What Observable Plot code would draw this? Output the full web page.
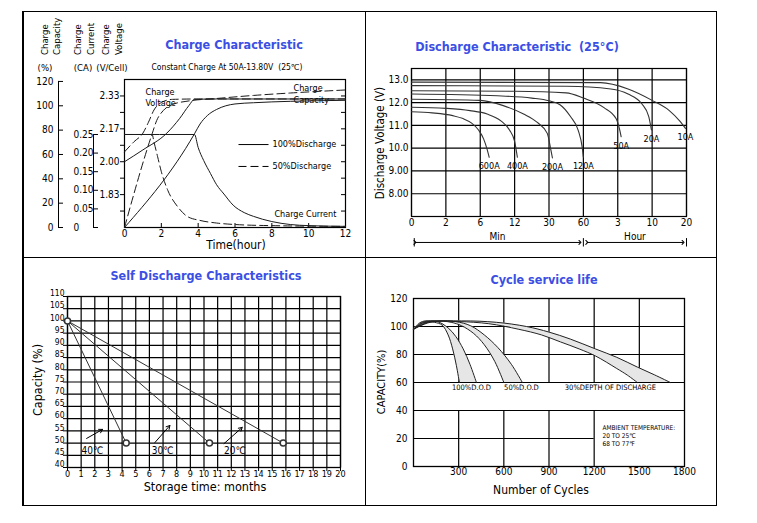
<!DOCTYPE html>
<html>
<head>
<meta charset="utf-8">
<script src="https://cdn.jsdelivr.net/npm/d3@7"></script>
<script src="https://cdn.jsdelivr.net/npm/@observablehq/plot@0.6"></script>
<style>
html,body{margin:0;padding:0;background:#fff}
#root{position:relative;width:757px;height:523px;overflow:hidden;background:#fff;font-family:"DejaVu Sans Condensed","DejaVu Sans",sans-serif;color:#000}
.t{position:absolute;white-space:pre;line-height:1}
</style>
</head>
<body>
<div id="root"></div>
<script>
// ================= DATA =================
// --- Charge Characteristic (hours) ---
const chargeHourTicks = [0, 2, 4, 6, 8, 10, 12];
const chargeVoltTicks = [1.75, 1.8333, 1.9167, 2.0, 2.0833, 2.1667, 2.25, 2.3333];
const chargeVoltLabels = ["", "1.83", "", "2.00", "", "2.17", "", "2.33"];
const chargeCapTicks = [0, 20, 40, 60, 80, 100, 120];
const chargeCurTicks = [0, 0.05, 0.10, 0.15, 0.20, 0.25];
const chargeCurLabels = ["0", "0.05", "0.10", "0.15", "0.20", "0.25"];
// [hour, V/cell]
const voltage100 = [[0,2.0],[1,2.06],[2.3,2.145],[3.0,2.22],[3.5,2.285],[3.8,2.316],[5,2.318],[12,2.318]];
const voltage50  = [[0,2.05],[0.5,2.1],[1.0,2.145],[1.3,2.2],[1.6,2.262],[2.0,2.3],[2.6,2.316],[4,2.318],[12,2.318]];
// [hour, %]
const capacity100 = [[0,0],[3.8,77],[4.1,85],[4.5,92],[5,97],[5.5,100],[6,101.5],[7,102.5],[8,103.2],[10,104],[12,104.5]];
const capacity50  = [[0,0],[1.5,77],[1.75,88],[2.1,96],[2.6,101],[3.5,104],[5,106],[7,108.5],[9,110.5],[12,113]];
// [hour, CA]
const current100 = [[0,0.25],[3.8,0.25],[4.0,0.215],[4.3,0.18],[4.67,0.145],[5,0.115],[5.4,0.09],[5.9,0.06],[6.5,0.04],[7,0.03],[8,0.016],[9,0.008],[10,0.005],[12,0.003]];
const current50  = [[0,0.25],[1.5,0.25],[1.6,0.23],[1.8,0.19],[2.0,0.15],[2.35,0.10],[2.9,0.055],[3.4,0.03],[4.1,0.019],[5,0.012],[6,0.008],[8,0.005],[12,0.003]];
const legendLabels = ["100%Discharge", "50%Discharge"];

// --- Discharge Characteristic (x = position on the mixed min/hour axis) ---
const dischargeTimeLabels = ["0","2","6","12","30","60","3","10","20"];
const dischargeVoltTicks = [13, 12, 11, 10, 9, 8];
const dischargeVoltLabels = ["13.0","12.0","11.0","10.0","9.00","8.00"];
const dischargeCurves = [
  {label:"600A", points:[[0,11.6],[0.6,11.55],[1.2,11.43],[1.5,11.3],[1.75,11.1],[1.95,10.8],[2.1,10.4],[2.2,9.95],[2.26,9.6]]},
  {label:"400A", points:[[0,11.8],[1,11.75],[1.7,11.65],[2.2,11.5],[2.6,11.2],[2.85,10.8],[3.0,10.3],[3.08,9.6]]},
  {label:"200A", points:[[0,12.15],[2,12.1],[2.67,11.87],[3.26,11.5],[3.66,11.13],[3.95,10.65],[4.04,10.04],[4.1,9.57]]},
  {label:"120A", points:[[0,12.38],[2.5,12.3],[3.5,12.2],[4.0,12.08],[4.33,11.9],[4.62,11.4],[4.85,10.78],[4.97,10.0],[5.0,9.6]]},
  {label:"50A",  points:[[0,12.52],[3,12.5],[4.5,12.43],[5.0,12.2],[5.6,11.78],[5.95,11.3],[6.05,10.85],[6.1,10.5]]},
  {label:"20A",  points:[[0,12.75],[4.5,12.72],[5.8,12.6],[6.3,12.38],[6.7,11.95],[6.9,11.4],[6.98,10.8]]},
  {label:"10A",  points:[[0,12.9],[5.5,12.88],[6.3,12.6],[7.0,12.1],[7.5,11.65],[7.8,11.2],[7.97,10.87]]}
];
const dischargeSpans = [{label:"Min", from:"0", to:"60"}, {label:"Hour", from:"60", to:"20"}];

// --- Self Discharge ---
const storageMonthTicks = [0,1,2,3,4,5,6,7,8,9,10,11,12,13,14,15,16,17,18,19,20];
const selfCapTicks = [40,45,50,55,60,65,70,75,80,85,90,95,100,105,110];
const selfTemps = ["40℃","30℃","20℃"];
const selfStart = [0, 100];
const selfEndMonths = [4.3, 10.4, 15.8];
const selfEndCapacity = [50, 50, 50];

// --- Cycle service life ---
const cycleTicks = [300,600,900,1200,1500,1800];
const cycleCapTicks = [0,20,40,60,80,100,120];
const dod100Inner = [[0,98],[40,102.5],[80,104],[140,103],[190,101],[230,94],[260,84],[285,72],[305,60]];
const dod100Outer = [[0,98],[50,102.5],[100,104],[160,103.5],[230,99],[280,93],[330,84],[375,73],[418,60]];
const dod50Inner  = [[0,98],[60,102.5],[150,104],[250,103],[320,100.5],[400,95],[470,87],[540,75],[600,60]];
const dod50Outer  = [[0,98],[70,102.5],[170,104],[280,103.5],[380,100.5],[470,94],[560,85],[650,73],[723,60]];
const dod30Inner  = [[0,98],[100,103],[300,103.5],[500,102],[700,98],[850,94],[976,89],[1100,84],[1208,79],[1350,70],[1420,65.3],[1487,60]];
const dod30Outer  = [[0,98],[110,103],[320,104],[550,103],[750,100],[900,96],[1042,91],[1208,84],[1350,78],[1487,71],[1600,65.5],[1706,60]];
const dodLabels = ["100%D.O.D", "50%D.O.D", "30%DEPTH OF DISCHARGE"];
const ambientLines = ["AMBIENT TEMPERATURE:", "20 TO 25℃", "68 TO 77℉"];

// ================= RENDER =================
const FONT = '"DejaVu Sans Condensed","DejaVu Sans",sans-serif';
const BLUE = "#3b4fe4";
const root = document.getElementById("root");
const baseStyle = {background:"none", overflow:"visible", maxWidth:"none", fontFamily:FONT, fontSize:"10px", color:"#000"};

function mount(svg, left, top) {
  svg.style.position = "absolute"; svg.style.left = left + "px"; svg.style.top = top + "px";
  root.appendChild(svg); return svg;
}
function label(text, x, y, o = {}) {
  const d = document.createElement("div");
  d.className = "t"; d.textContent = text;
  d.style.left = x + "px"; d.style.top = y + "px";
  d.style.fontSize = (o.size || 10) + "px";
  if (o.bold) d.style.fontWeight = "bold";
  if (o.color) d.style.color = o.color;
  if (o.ls) d.style.letterSpacing = o.ls + "px";
  if (o.rotStart) { d.style.transformOrigin = "0 50%"; d.style.transform = "translate(0,-50%) rotate(-90deg)"; }
  else if (o.rot) d.style.transform = "translate(-50%,-50%) rotate(-90deg)";
  else d.style.transform = "translate(-50%,-50%)";
  root.appendChild(d);
}
function rect(x, y, w, h) {
  const d = document.createElement("div");
  d.style.cssText = `position:absolute;left:${x}px;top:${y}px;width:${w}px;height:${h}px;background:#000`;
  root.appendChild(d);
}
// panel borders
rect(22,10.5,695,1.5); rect(22,504.5,695,1.5); rect(22,10.5,1.5,495.5); rect(715.5,10.5,1.5,495.5);
rect(364.5,10.5,1.5,495.5); rect(22,256.5,695,1.5);

const DASH = "8,4";
const lineOpts = {x:d=>d[0], y:d=>d[1], stroke:"#1a1a1a", strokeWidth:1, curve:"monotone-x"};

// ---------- Panel 1: Charge characteristic ----------
const TLG = {width:342, height:245, marginLeft:101, marginRight:20, marginTop:67, marginBottom:30};
const tlFW = TLG.width - TLG.marginLeft - TLG.marginRight;
const tlFH = TLG.height - TLG.marginTop - TLG.marginBottom;
const hourX = {domain:[0,12], axis:null};
const voltRows = chargeVoltTicks.map((v,i)=>({v, label:chargeVoltLabels[i]}));
const curRows = chargeCurTicks.map((v,i)=>({v, label:chargeCurLabels[i]}));

mount(Plot.plot({...TLG, style:{...baseStyle}, x:hourX, y:{domain:[1.6667,2.4167], axis:null},
  marks:[
    Plot.frame({stroke:"#000", strokeWidth:1.2}),
    Plot.tickX(chargeHourTicks.slice(1,-1), {x:d=>d, insetTop:tlFH-4, stroke:"#000"}),
    Plot.text(chargeHourTicks, {x:d=>d, text:d=>String(d), frameAnchor:"bottom", dy:9, fontSize:10}),
    Plot.tickY(chargeVoltTicks, {y:d=>d, insetLeft:-4, insetRight:tlFW, stroke:"#000"}),
    Plot.tickY(chargeVoltTicks, {y:d=>d, insetLeft:tlFW-4, stroke:"#000"}),
    Plot.text(voltRows, {y:"v", text:"label", frameAnchor:"left", textAnchor:"end", dx:-5, fontSize:10}),
    Plot.line(voltage100, lineOpts),
    Plot.line(voltage50, {...lineOpts, strokeDasharray:DASH}),
    Plot.text(["Charge"], {x:1.14, y:2.351, text:d=>d, textAnchor:"start", fontSize:9}),
    Plot.text(["Voltage"], {x:1.14, y:2.295, text:d=>d, textAnchor:"start", fontSize:9}),
    Plot.text(["Charge"], {x:9.18, y:2.371, text:d=>d, textAnchor:"start", fontSize:9}),
    Plot.text(["Capacity"], {x:9.18, y:2.310, text:d=>d, textAnchor:"start", fontSize:9}),
    Plot.link([legendLabels[0]], {x1:6.19, x2:7.82, y1:2.087, y2:2.087, stroke:"#000"}),
    Plot.link([legendLabels[1]], {x1:6.19, x2:7.82, y1:1.976, y2:1.976, stroke:"#000", strokeDasharray:DASH}),
    Plot.text([legendLabels[0]], {x:8.04, y:2.087, text:d=>d, textAnchor:"start", fontSize:9}),
    Plot.text([legendLabels[1]], {x:8.04, y:1.976, text:d=>d, textAnchor:"start", fontSize:9}),
    Plot.text(["Charge Current"], {x:8.14, y:1.733, text:d=>d, textAnchor:"start", fontSize:9})
  ]}), 23, 12);

mount(Plot.plot({...TLG, style:{...baseStyle}, x:hourX, y:{domain:[0,121.6], axis:null},
  marks:[
    Plot.line(capacity100, lineOpts),
    Plot.line(capacity50, {...lineOpts, strokeDasharray:DASH})
  ]}), 23, 12);

mount(Plot.plot({...TLG, style:{...baseStyle}, x:hourX, y:{domain:[0,0.3978], axis:null},
  marks:[
    Plot.line(current100, lineOpts),
    Plot.line(current50, {...lineOpts, strokeDasharray:DASH})
  ]}), 23, 12);

// capacity axis
mount(Plot.plot({width:42, height:245, marginLeft:35, marginRight:2, marginTop:67, marginBottom:30,
  style:{...baseStyle}, x:{domain:[0,1], axis:null}, y:{domain:[0,121.6], axis:null},
  marks:[
    Plot.ruleX([0], {y1:0, y2:120, stroke:"#000"}),
    Plot.tickY(chargeCapTicks, {y:d=>d, stroke:"#000"}),
    Plot.text(chargeCapTicks, {y:d=>d, text:d=>String(d), frameAnchor:"left", textAnchor:"end", dx:-5, fontSize:10})
  ]}), 23, 12);
// current axis
mount(Plot.plot({width:42, height:245, marginLeft:35, marginRight:2, marginTop:67, marginBottom:30,
  style:{...baseStyle}, x:{domain:[0,1], axis:null}, y:{domain:[0,0.3978], axis:null},
  marks:[
    Plot.ruleX([0], {y1:0, y2:0.25, stroke:"#000"}),
    Plot.tickY(chargeCurTicks, {y:d=>d, stroke:"#000"}),
    Plot.text(curRows, {y:"v", text:"label", frameAnchor:"left", textAnchor:"start", dx:-20, fontSize:10})
  ]}), 58, 12);

label("Charge Characteristic", 234, 45, {size:12.5, bold:true, color:BLUE});
label("Constant Charge At 50A-13.80V  (25℃)", 227, 67, {size:8.5});
[["Charge",45],["Capacity",57],["Charge",78],["Current",91],["Charge",106],["Voltage",119]]
  .forEach(([t,x]) => label(t, x, 55, {size:9.5, rotStart:true}));
label("(%)", 45, 68, {size:9.5});
label("(CA)", 83, 68, {size:9.5});
label("(V/Cell)", 112, 68, {size:9.5});
label("Time(hour)", 236, 245, {size:12});

// ---------- Panel 2: Discharge characteristic ----------
const TRG = {width:350, height:245, marginLeft:45, marginRight:30, marginTop:56, marginBottom:41};
const dIdx = dischargeTimeLabels.map((_, i) => i);
const dRows = dischargeCurves.flatMap(c => c.points.map(([t, v]) => ({label:c.label, t, v})));
const dEnds = dischargeCurves.map(c => ({label:c.label, t:c.points[c.points.length-1][0], v:c.points[c.points.length-1][1]}));
const dSpanRows = dischargeSpans.map(s => ({label:s.label, from:dischargeTimeLabels.indexOf(s.from), to:dischargeTimeLabels.lastIndexOf(s.to)}));
const dimY = 5.86;
mount(Plot.plot({...TRG, style:{...baseStyle}, x:{domain:[0,8], axis:null}, y:{domain:[7,13.5], axis:null},
  marks:[
    Plot.ruleX(dIdx, {x:d=>d, stroke:"#000", strokeWidth:1.2}),
    Plot.ruleY(dischargeVoltTicks, {y:d=>d, stroke:"#000", strokeWidth:1.2}),
    Plot.frame({stroke:"#000", strokeWidth:1.2}),
    Plot.text(dischargeVoltTicks.map((v,i)=>({v, label:dischargeVoltLabels[i]})), {y:"v", text:"label", frameAnchor:"left", textAnchor:"end", dx:-3, fontSize:10}),
    Plot.text(dIdx, {x:d=>d, text:d=>dischargeTimeLabels[d], frameAnchor:"bottom", dy:9, fontSize:10}),
    Plot.line(dRows, {x:"t", y:"v", z:"label", stroke:"#333", strokeWidth:1.1, curve:"monotone-x"}),
    Plot.text(dEnds, {x:"t", y:"v", text:"label", dy:9, fontSize:9}),
    Plot.link(dSpanRows, {x1:d=>d.from+0.1, x2:d=>d.to-0.1, y1:dimY, y2:dimY, stroke:"#000", markerStart:"arrow", markerEnd:"arrow"}),
    Plot.ruleX([dSpanRows[0].from+0.08, dSpanRows[0].to, dSpanRows[1].to], {x:d=>d, y1:5.66, y2:6.03, stroke:"#000"}),
    Plot.text(dSpanRows, {x:d=>(d.from+d.to)/2, y:6.13, text:"label", fontSize:10})
  ]}), 366, 12);
label("Discharge Characteristic  (25°C)", 517, 47, {size:12.5, bold:true, color:BLUE});
label("Discharge Voltage (V)", 381, 143, {size:11.5, rot:true});

// ---------- Panel 3: Self discharge ----------
const BLG = {width:342, height:247, marginLeft:44, marginRight:25, marginTop:38, marginBottom:38};
const blFW = BLG.width - BLG.marginLeft - BLG.marginRight;
const blFH = BLG.height - BLG.marginTop - BLG.marginBottom;
const selfRows = selfTemps.flatMap((t,i)=>[{t, m:selfStart[0], c:selfStart[1]}, {t, m:selfEndMonths[i], c:selfEndCapacity[i]}]);
const selfEnds = selfTemps.map((t,i)=>({t, m:selfEndMonths[i], c:selfEndCapacity[i]}));
mount(Plot.plot({...BLG, style:{...baseStyle}, x:{domain:[0,20], axis:null}, y:{domain:[40,110], axis:null},
  marks:[
    Plot.ruleX(storageMonthTicks, {x:d=>d, stroke:"#000", strokeWidth:1.2}),
    Plot.ruleY(selfCapTicks, {y:d=>d, stroke:"#000", strokeWidth:1.2}),
    Plot.frame({stroke:"#000", strokeWidth:1.3}),
    Plot.tickY(selfCapTicks, {y:d=>d, insetLeft:-4, insetRight:blFW, stroke:"#000"}),
    Plot.tickX(storageMonthTicks, {x:d=>d, insetTop:blFH, insetBottom:-4, stroke:"#000"}),
    Plot.text(selfCapTicks, {y:d=>d, text:d=>String(d), frameAnchor:"left", textAnchor:"end", dx:-3, dy:-3, fontSize:8.5}),
    Plot.text(storageMonthTicks, {x:d=>d, text:d=>String(d), frameAnchor:"bottom", dy:9, fontSize:9}),
    Plot.line(selfRows, {x:"m", y:"c", z:"t", stroke:"#333", strokeWidth:1}),
    Plot.dot([selfStart], {x:d=>d[0], y:d=>d[1], r:3, stroke:"#333", fill:"white"}),
    Plot.dot(selfEnds, {x:"m", y:"c", r:3, stroke:"#333", fill:"white"}),
    Plot.text(selfTemps, {x:(d,i)=>[1.03,6.18,11.47][i], y:47, text:d=>d, textAnchor:"start", fontSize:10}),
    Plot.arrow(selfTemps, {x1:(d,i)=>[1.4,6.4,11.47][i], y1:(d,i)=>[51.9,50.2,49.8][i], x2:(d,i)=>[2.57,7.5,12.8][i], y2:(d,i)=>[55.6,57.2,56.4][i], stroke:"#000", strokeWidth:1, headLength:6})
  ]}), 23, 258);
label("Self Discharge Characteristics", 206, 276, {size:12.5, bold:true, color:BLUE});
label("Capacity (%)", 38, 380, {size:12.5, rot:true});
label("Storage time: months", 205, 487, {size:12.5});

// ---------- Panel 4: Cycle service life ----------
const BRG = {width:350, height:247, marginLeft:47, marginRight:32, marginTop:40, marginBottom:39};
const band = (inner, outer) => inner.map((p,i)=>({xi:p[0], yi:p[1], xo:outer[i][0], yo:outer[i][1]}));
const bands = [band(dod100Inner, dod100Outer), band(dod50Inner, dod50Outer), band(dod30Inner, dod30Outer)];
const curveLines = [dod100Inner, dod100Outer, dod50Inner, dod50Outer, dod30Inner, dod30Outer];
mount(Plot.plot({...BRG, style:{...baseStyle}, x:{domain:[0,1800], axis:null}, y:{domain:[0,120], axis:null},
  marks:[
    Plot.ruleX(cycleTicks.slice(0,5), {x:d=>d, y1:60, y2:120, stroke:"#000", strokeWidth:1.2}),
    Plot.ruleX(cycleTicks.slice(0,4), {x:d=>d, y1:0, y2:40, stroke:"#000", strokeWidth:1.2}),
    Plot.ruleY(cycleCapTicks.filter(v=>v>=40), {y:d=>d, stroke:"#000", strokeWidth:1.2}),
    Plot.ruleY(cycleCapTicks.filter(v=>v>0 && v<40), {y:d=>d, x1:0, x2:1200, stroke:"#000", strokeWidth:1.2}),
    Plot.frame({stroke:"#000", strokeWidth:1.3}),
    ...bands.map(b => Plot.area(b, {x1:"xi", y1:"yi", x2:"xo", y2:"yo", fill:"#e6e6e6", curve:"catmull-rom"})),
    ...curveLines.map(c => Plot.line(c, {x:d=>d[0], y:d=>d[1], stroke:"#222", strokeWidth:1, curve:"catmull-rom"})),
    Plot.text(cycleCapTicks, {y:d=>d, text:d=>String(d), frameAnchor:"left", textAnchor:"end", dx:-6, fontSize:10}),
    Plot.text(cycleTicks, {x:d=>d, text:d=>String(d), frameAnchor:"bottom", dy:8, fontSize:10}),
    Plot.text(dodLabels, {x:(d,i)=>[385,717,1308][i], y:56.4, text:d=>d, fontSize:7.5}),
    Plot.text(ambientLines, {x:1255, y:(d,i)=>[27.9,22.2,16.4][i], text:d=>d, textAnchor:"start", fontSize:6.5})
  ]}), 366, 258);
label("Cycle service life", 544, 280, {size:12.5, bold:true, color:BLUE});
label("CAPACITY(%)", 381, 382, {size:11, rot:true});
label("Number of Cycles", 541, 490, {size:12});
</script>
</body>
</html>
